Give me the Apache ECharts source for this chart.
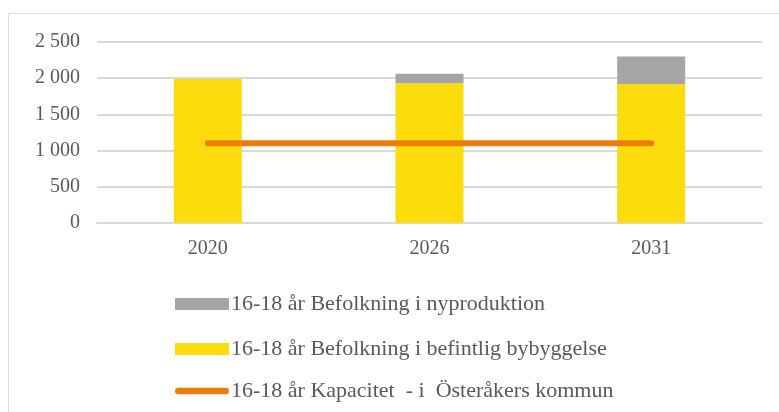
<!DOCTYPE html>
<html>
<head>
<meta charset="utf-8">
<script src="https://cdn.jsdelivr.net/npm/echarts@6/dist/echarts.min.js"></script>
<style>
  html, body { margin: 0; padding: 0; background: #fff; }
  #main { width: 779px; height: 412px; }
</style>
</head>
<body>
<div id="main"></div>
<script>
// data
const years = ["2020", "2026", "2031"];
const befintlig = [1990, 1930, 1920];
const nyproduktion = [0, 130, 380];
const kapacitet = [1100, 1100, 1100];
const yTicks = [0, 500, 1000, 1500, 2000, 2500];

const NAME_NY = "16-18 år Befolkning i nyproduktion";
const NAME_BEF = "16-18 år Befolkning i befintlig bybyggelse";
const NAME_KAP = "16-18 år Kapacitet  - i  Österåkers kommun";

const FONT = "Liberation Serif";
const TXT = "#595959";

function fmt(v) {
  return String(v).replace(/\B(?=(\d{3})+(?!\d))/g, " ");
}

function legendAt(name, top, icon) {
  return {
    data: [{ name: name, icon: icon }],
    left: 170,
    top: top,
    itemWidth: 54,
    itemHeight: 12,
    itemGap: 4,
    selectedMode: false,
    textStyle: { fontFamily: FONT, fontSize: 22, color: TXT, padding: [0, 0, 0, -3] }
  };
}

const chart = echarts.init(document.getElementById("main"));
chart.setOption({
  animation: false,
  graphic: [{
    type: "rect",
    shape: { x: 8.5, y: 13.5, width: 800, height: 420 },
    style: { fill: "none", stroke: "#d9d9d9", lineWidth: 1 }
  }],
  grid: { left: 97, right: 17, top: 42, bottom: 189 },
  legend: [
    legendAt(NAME_NY, 288, "rect"),
    legendAt(NAME_BEF, 333, "rect"),
    legendAt(NAME_KAP, 375, "path://M6,0 L94,0 A6,6 0 0 1 94,12 L6,12 A6,6 0 0 1 6,0 Z")
  ],
  xAxis: {
    type: "category",
    data: years,
    axisLine: { lineStyle: { color: "#d9d9d9", width: 2 } },
    axisTick: { show: false },
    axisLabel: { fontFamily: FONT, fontSize: 20, color: TXT, margin: 16 }
  },
  yAxis: {
    type: "value",
    min: yTicks[0],
    max: yTicks[yTicks.length - 1],
    interval: 500,
    splitLine: { lineStyle: { color: "#d9d9d9", width: 2 } },
    axisLabel: { fontFamily: FONT, fontSize: 20, color: TXT, margin: 17, formatter: fmt }
  },
  series: [
    {
      name: NAME_BEF,
      type: "bar",
      stack: "pop",
      data: befintlig,
      barWidth: 68,
      itemStyle: { color: "#fddc0e" }
    },
    {
      name: NAME_NY,
      type: "bar",
      stack: "pop",
      data: nyproduktion,
      barWidth: 68,
      itemStyle: { color: "#a5a5a5" }
    },
    {
      name: NAME_KAP,
      type: "line",
      data: kapacitet,
      symbol: "none",
      lineStyle: { color: "#ed7d0a", width: 6, cap: "round" },
      itemStyle: { color: "#ed7d0a" },
      z: 5
    }
  ]
});
</script>
</body>
</html>
